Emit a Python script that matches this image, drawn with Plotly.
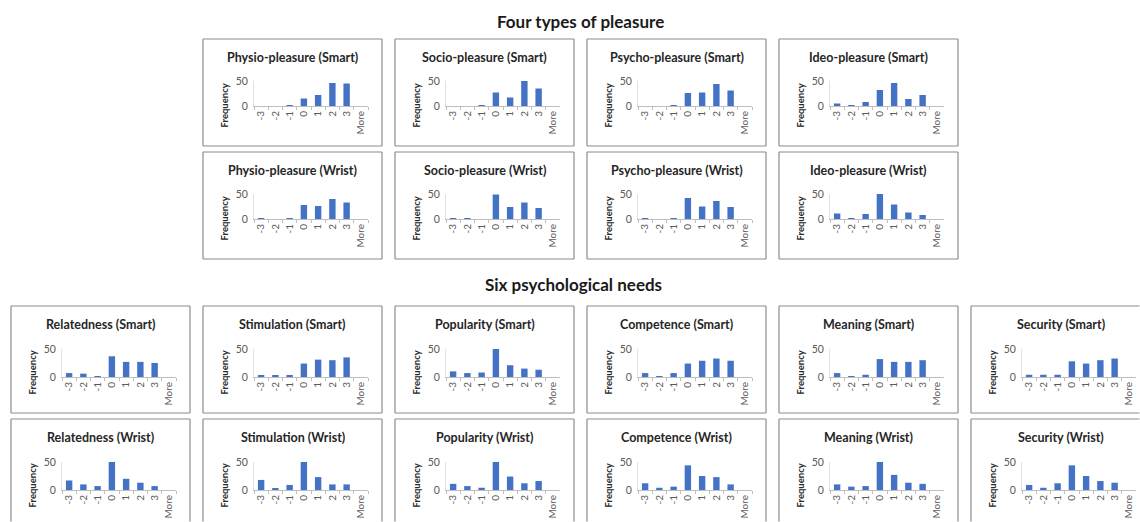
import plotly.graph_objects as go

categories = ["-3", "-2", "-1", "0", "1", "2", "3", "More"]

# Four types of pleasure
physio_smart = [0, 0, 1.5, 15, 22, 46, 45, 0]
socio_smart = [0, 0, 0.5, 27, 17, 50, 35, 0]
psycho_smart = [0, 0, 0.5, 26, 27, 44, 31, 0]
ideo_smart = [5, 0.5, 8, 32, 46, 14, 22, 0]
physio_wrist = [0.5, 0, 1, 28, 26, 40, 33, 0]
socio_wrist = [0.5, 0.5, 0, 49, 24, 33, 22, 0]
psycho_wrist = [0.5, 0, 1, 42, 25, 36, 24, 0]
ideo_wrist = [11, 1, 10, 51, 29, 13, 8, 0]

# Six psychological needs
relatedness_smart = [7, 6, 0.5, 37, 27, 27, 25, 0]
stimulation_smart = [2, 2, 3, 24, 31, 30, 35, 0]
popularity_smart = [10, 7, 8, 50, 21, 15, 13, 0]
competence_smart = [7, 0.5, 7, 24, 29, 33, 29, 0]
meaning_smart = [7, 1, 4, 32, 27, 27, 30, 0]
security_smart = [4, 4, 4, 28, 24, 30, 33, 0]
relatedness_wrist = [17, 10, 7, 50, 20, 13, 7, 0]
stimulation_wrist = [18, 3, 9, 50, 23, 10, 10, 0]
popularity_wrist = [11, 7, 4, 50, 24, 12, 16, 0]
competence_wrist = [12, 4, 6, 44, 25, 23, 10, 0]
meaning_wrist = [10, 6, 7, 50, 27, 13, 11, 0]
security_wrist = [9, 4, 12, 44, 25, 16, 13, 0]

section_titles = ["Four types of pleasure", "Six psychological needs"]

W, H = 1140, 522
BOX_W, BOX_H = 179, 107
FONT = "Lato"
BAR = "#4472C4"
EDGE = "#8c8c8c"

panels = []
top_names = [("Physio-pleasure", physio_smart, physio_wrist),
             ("Socio-pleasure", socio_smart, socio_wrist),
             ("Psycho-pleasure", psycho_smart, psycho_wrist),
             ("Ideo-pleasure", ideo_smart, ideo_wrist)]
for i, (nm, s, w) in enumerate(top_names):
    L = 203 + 192 * i
    panels.append((f"{nm} (Smart)", s, L, 39, 42, 67))
    panels.append((f"{nm} (Wrist)", w, L, 152, 42, 67))

bot_names = [("Relatedness", relatedness_smart, relatedness_wrist),
             ("Stimulation", stimulation_smart, stimulation_wrist),
             ("Popularity", popularity_smart, popularity_wrist),
             ("Competence", competence_smart, competence_wrist),
             ("Meaning", meaning_smart, meaning_wrist),
             ("Security", security_smart, security_wrist)]
for i, (nm, s, w) in enumerate(bot_names):
    L = 11 + 192 * i
    panels.append((f"{nm} (Smart)", s, L, 306, 43, 71))
    panels.append((f"{nm} (Wrist)", w, L, 419, 43, 71))


def px(x):
    return x / W


def py(y):
    return 1 - y / H


def edge(x0, y0, x1, y1, color=EDGE, width=1.2):
    return dict(type="line", xref="paper", yref="paper",
                x0=px(x0), y0=py(y0), x1=px(x1), y1=py(y1),
                line=dict(color=color, width=width), layer="below")


fig = go.Figure()
shapes = []
annotations = []
layout = {}

for k, (title, vals, L, T, ptop, pbot) in enumerate(panels, start=1):
    xa = "x" if k == 1 else f"x{k}"
    ya = "y" if k == 1 else f"y{k}"
    fig.add_trace(go.Bar(x=categories, y=vals, xaxis=xa, yaxis=ya,
                         marker=dict(color=BAR, line=dict(width=0)),
                         showlegend=False, hoverinfo="x+y"))
    xkey = "xaxis" if k == 1 else f"xaxis{k}"
    ykey = "yaxis" if k == 1 else f"yaxis{k}"
    layout[xkey] = dict(domain=[px(L + 51), px(L + 165)], anchor=ya,
                        type="category", automargin=False,
                        categoryorder="array", categoryarray=categories,
                        showline=True, linecolor="#bfbfbf", linewidth=1,
                        ticks="outside", tickson="boundaries", ticklen=3,
                        tickcolor="#bfbfbf", tickangle=-90,
                        tickfont=dict(family=FONT, size=10, color="#595959"),
                        showgrid=False, zeroline=False, fixedrange=True)
    layout[ykey] = dict(domain=[py(T + pbot), py(T + ptop)], anchor=xa,
                        range=[0, 50], automargin=False,
                        tickvals=[0, 50], ticks="", showline=True,
                        linecolor="#e3e3e3", linewidth=1,
                        tickfont=dict(family=FONT, size=10.5, color="#595959"),
                        ticklabelstandoff=3,
                        showgrid=False, zeroline=False, fixedrange=True)
    R = min(L + BOX_W, W - 0.5)
    B = min(T + BOX_H, H - 0.5)
    shapes.append(edge(L, T, R, T))
    shapes.append(edge(L, T, L, B))
    if L + BOX_W < W:
        shapes.append(edge(L + BOX_W, T, L + BOX_W, B))
    if T + BOX_H < H:
        shapes.append(edge(L, T + BOX_H, R, T + BOX_H))
    annotations.append(dict(text=title, xref="paper", yref="paper",
                            x=px(L + BOX_W / 2), y=py(T + 18.5),
                            xanchor="center", yanchor="middle", showarrow=False,
                            font=dict(family=FONT, size=12.5, color="#262626",
                                      weight="bold")))
    annotations.append(dict(text="Frequency", xref="paper", yref="paper",
                            x=px(L + 21), y=py(T + 66.5),
                            xanchor="center", yanchor="middle", showarrow=False,
                            textangle=-90,
                            font=dict(family=FONT, size=9.5, color="#262626",
                                      weight="bold")))

annotations.append(dict(text=section_titles[0], xref="paper", yref="paper",
                        x=px(580), y=py(21), xanchor="center",
                        yanchor="middle", showarrow=False,
                        font=dict(family=FONT, size=17, color="#1a1a1a",
                                  weight="bold")))
annotations.append(dict(text=section_titles[1], xref="paper", yref="paper",
                        x=px(573), y=py(284), xanchor="center",
                        yanchor="middle", showarrow=False,
                        font=dict(family=FONT, size=17, color="#1a1a1a",
                                  weight="bold")))

fig.update_layout(width=W, height=H,
                  margin=dict(l=0, r=0, t=0, b=0, pad=0, autoexpand=False),
                  paper_bgcolor="white", plot_bgcolor="white",
                  bargap=0.55, shapes=shapes, annotations=annotations,
                  showlegend=False, **layout)

fig.write_html("out.html", config={"displayModeBar": False},
               post_script="document.body.style.margin='0';"
                           "document.body.style.overflow='hidden';")
